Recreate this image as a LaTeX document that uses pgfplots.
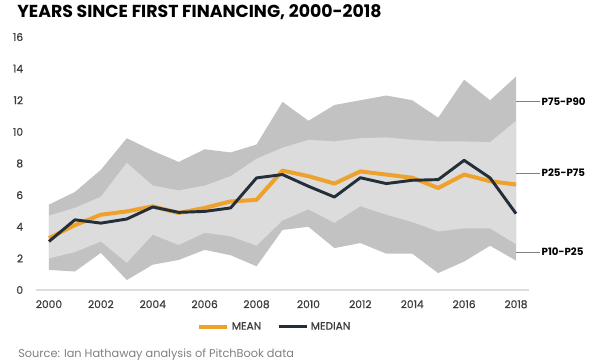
\documentclass[border=0pt]{standalone}
\usepackage{pgfplots}
\pgfplotsset{compat=1.18}
\usepackage{pgfplotstable}
\usepgfplotslibrary{fillbetween}
\usepackage{fontspec}
\setmainfont{Poppins}
\newfontfamily\medfont{Poppins}[FakeBold=0.8]
\definecolor{outerband}{HTML}{C2C2C2}
\definecolor{innerband}{HTML}{DCDCDC}
\definecolor{meanc}{HTML}{EEA22C}
\definecolor{medc}{HTML}{232E38}
\definecolor{tickc}{HTML}{3C3C3C}
\definecolor{axc}{HTML}{DDDDDD}

\pgfplotstableread{
idx p10 p25 p75 p90 mean median
0 1.27 2.00 4.70 5.40 3.28 3.07
1 1.17 2.40 5.20 6.20 4.10 4.44
2 2.35 3.07 5.90 7.60 4.76 4.23
3 0.63 1.72 8.05 9.60 4.97 4.49
4 1.60 3.50 6.60 8.80 5.29 5.25
5 1.90 2.85 6.30 8.10 4.87 4.91
6 2.54 3.62 6.60 8.90 5.19 4.97
7 2.20 3.40 7.20 8.70 5.60 5.19
8 1.50 2.80 8.30 9.20 5.70 7.09
9 3.80 4.40 9.00 11.90 7.55 7.30
10 4.00 5.10 9.50 10.70 7.20 6.56
11 2.65 4.25 9.40 11.70 6.73 5.88
12 2.97 5.30 9.60 12.00 7.50 7.10
13 2.30 4.76 9.65 12.30 7.30 6.73
14 2.30 4.30 9.50 12.00 7.10 6.94
15 1.07 3.70 9.40 10.90 6.45 6.98
16 1.80 3.90 9.40 13.30 7.30 8.20
17 2.80 3.90 9.35 12.00 6.88 7.09
18 1.86 2.90 10.70 13.50 6.67 4.83
}\datatable

\begin{document}
\begin{tikzpicture}
\begin{axis}[
  at={(27pt,54pt)}, anchor=south west,
  scale only axis, width=369.75pt, height=189.75pt,
  xmin=-0.5, xmax=18.5, ymin=0, ymax=16,
  axis x line=bottom, axis y line=left,
  x axis line style={axc, line width=1pt, -},
  y axis line style={draw=none},
  xtick={0,2,...,18},
  xticklabels={2000,2002,2004,2006,2008,2010,2012,2014,2016,2018},
  ytick={0,2,...,16},
  /pgf/number format/assume math mode=true,
  tick style={draw=none},
  ticklabel style={font=\medfont\fontsize{8}{9}\selectfont, text=tickc},
  xticklabel style={yshift=-2pt},
  yticklabel style={xshift=-4pt},
  legend style={at={(0.485,-0.146)}, anchor=center, draw=none, fill=none,
    font=\medfont\fontsize{8}{9}\selectfont\color{tickc}, legend columns=2,
    /tikz/every even column/.append style={column sep=10pt}},
  legend cell align=left,
  legend image code/.code={\draw[#1] (0pt,0pt) -- (21pt,0pt);},
  clip=false,
]
\addplot[name path=p90, draw=none, forget plot] table[x=idx,y=p90] {\datatable};
\addplot[name path=p10, draw=none, forget plot] table[x=idx,y=p10] {\datatable};
\addplot[name path=p75, draw=none, forget plot] table[x=idx,y=p75] {\datatable};
\addplot[name path=p25, draw=none, forget plot] table[x=idx,y=p25] {\datatable};
\addplot[fill=outerband, draw=none, forget plot] fill between[of=p90 and p10];
\addplot[fill=innerband, draw=none, forget plot] fill between[of=p75 and p25];
\addplot[meanc, line width=3pt, line join=round] table[x=idx,y=mean] {\datatable};
\addlegendentry{MEAN}
\addplot[medc, line width=2.2pt, line join=round] table[x=idx,y=median] {\datatable};
\addlegendentry{MEDIAN}
\draw[gray, line width=0.6pt] (axis cs:18,11.9) -- ++(8pt,0) node[right, inner sep=1.2pt, font=\bfseries\fontsize{7.7}{9}\selectfont, text=black] {P75-P90};
\draw[gray, line width=0.6pt] (axis cs:18,7.4) -- ++(8pt,0) node[right, inner sep=1.2pt, font=\bfseries\fontsize{7.7}{9}\selectfont, text=black] {P25-P75};
\draw[gray, line width=0.6pt] (axis cs:18,2.4) -- ++(8pt,0) node[right, inner sep=1.2pt, font=\bfseries\fontsize{7.7}{9}\selectfont, text=black] {P10-P25};
\end{axis}
\node[anchor=base west, inner sep=0pt, font=\bfseries\fontsize{13}{14}\selectfont] at (12.75pt,258.75pt) {YEARS SINCE FIRST FINANCING, 2000-2018};
\node[anchor=base west, inner sep=0pt, font=\fontsize{8.5}{10}\selectfont, text=gray] at (13.5pt,3.2pt) {Source: Ian Hathaway analysis of PitchBook data};
\pgfresetboundingbox
\path[use as bounding box] (0,0) rectangle (450pt,271.5pt);
\end{tikzpicture}
\end{document}
